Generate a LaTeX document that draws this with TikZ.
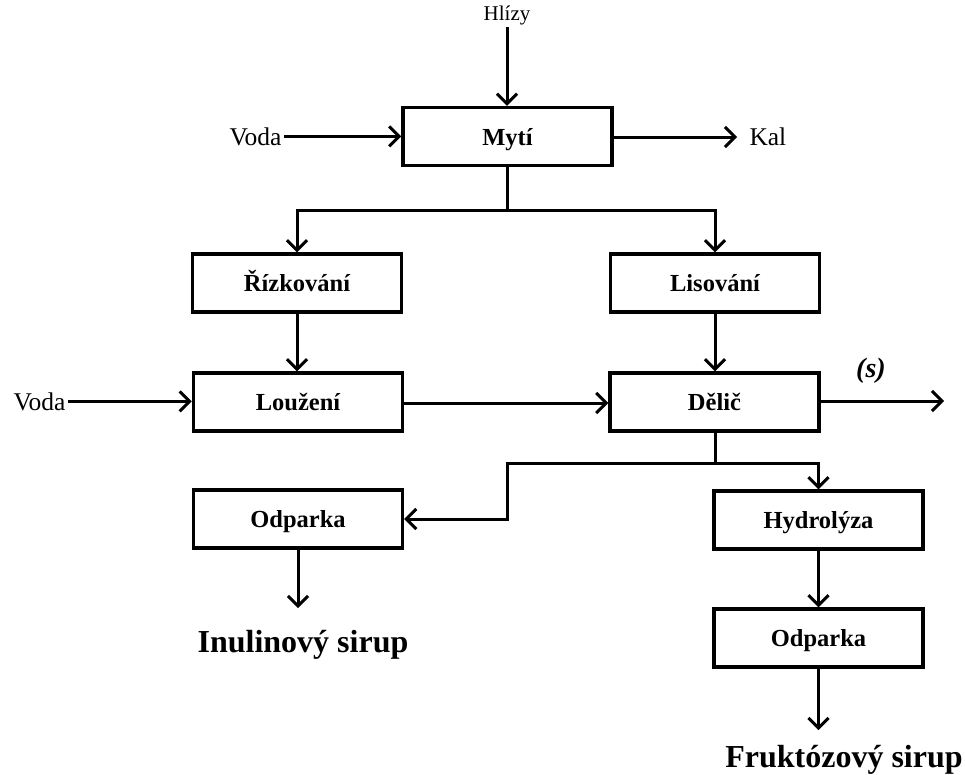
\documentclass[tikz,border=0pt]{standalone}
\usepackage{fontspec}
\setmainfont{Liberation Serif}
\usetikzlibrary{arrows.meta}
\begin{document}
\begin{tikzpicture}[x=1pt,y=-1pt,line width=3pt,
  box/.style={draw,line width=3.4pt,minimum width=209pt,minimum height=58pt,inner sep=0pt,
    text height=17pt,text depth=0pt,font=\fontsize{24.5}{28}\selectfont\bfseries},
  arr/.style={-{Straight Barb[length=10pt,width=20pt]}},
  side/.style={inner sep=1pt,font=\fontsize{25.5}{28}\selectfont},
  prod/.style={inner sep=0pt,font=\fontsize{32}{36}\selectfont\bfseries}]
\useasboundingbox (0,0) rectangle (965,774);

% boxes
\node[box] (myti) at (507.5,136.5) {Mytí};
\node[box] (riz)  at (297,283) {Řízkování};
\node[box] (lis)  at (715,283) {Lisování};
\node[box] (lou)  at (298,402) {Loužení};
\node[box] (del)  at (714.5,402) {Dělič};
\node[box] (odp1) at (298,519) {Odparka};
\node[box] (hyd)  at (818.5,520) {Hydrolýza};
\node[box] (odp2) at (818.5,638) {Odparka};

% side texts
\node[inner sep=1pt,font=\fontsize{21}{24}\selectfont,anchor=base] (hliz) at (507,20) {Hlízy};
\node[side,anchor=base east] (voda1) at (284,145) {Voda};
\node[side,anchor=base west] (kal) at (747,145) {Kal};
\node[side,anchor=base east] (voda2) at (68,410) {Voda};
\node[inner sep=0pt,font=\fontsize{28}{30}\selectfont\bfseries\itshape] (slab) at (871,371) {(s)};
\node[prod,anchor=base] (inul) at (303,652) {Inulinový sirup};
\node[prod,anchor=base] (fruk) at (844,767) {Fruktózový sirup};

% coordinates
\coordinate (hin) at (507,27);
\coordinate (kalend) at (737,137);
\coordinate (s1) at (507,210);
\coordinate (send) at (944,401);
\coordinate (s2) at (715,463);
\coordinate (s3) at (507,463);
\coordinate (p1end) at (298,608);
\coordinate (p2end) at (818.5,730);

% connectors
\draw[arr] (hin) -- (hin |- myti.north);
\draw[arr] (voda1.east) -- (voda1.east -| myti.west);
\draw[arr] (myti.east |- kalend) -- (kalend);
\draw (myti.south -| s1) -- (s1);
\draw[arr] (s1) -| (riz.north);
\draw[arr] (s1) -| (lis.north);
\draw[arr] (riz.south) -- (riz.south |- lou.north);
\draw[arr] (lis.south) -- (lis.south |- del.north);
\draw[arr] (voda2.east) -- (voda2.east -| lou.west);
\draw[arr] (lou.east |- 0,403) -- (del.west |- 0,403);
\draw[arr] (del.east |- send) -- (send);
\draw (del.south -| s2) -- (s2);
\draw[arr] (s2) -- (s3) |- (odp1.east);
\draw[arr] (s2) -| (hyd.north);
\draw[arr] (odp1.south) -- (p1end);
\draw[arr] (hyd.south) -- (odp2.north);
\draw[arr] (odp2.south) -- (p2end);
\end{tikzpicture}
\end{document}
